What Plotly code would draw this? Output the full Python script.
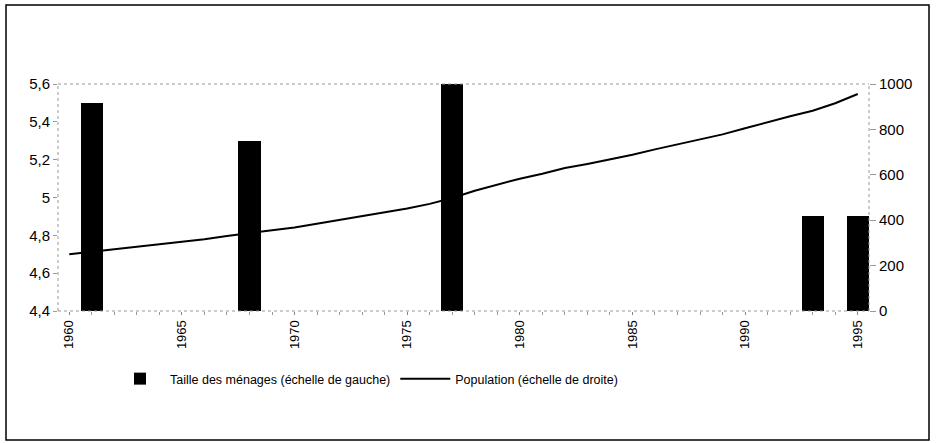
import plotly.graph_objects as go

years = list(range(1960, 1996))
population = [250, 262, 272, 283, 294, 304, 316, 330, 344, 356,
              368, 385, 401, 418, 433, 452, 472, 498, 530, 558,
              583, 605, 630, 648, 667, 688, 712, 733, 755, 778,
              805, 832, 858, 882, 915, 956]

bar_years = [1961, 1968, 1977, 1993, 1995]
household_size = [5.5, 5.3, 5.6, 4.9, 4.9]

left_ticks = [4.4, 4.6, 4.8, 5.0, 5.2, 5.4, 5.6]
left_tick_labels = ["4,4", "4,6", "4,8", "5", "5,2", "5,4", "5,6"]
right_ticks = [0, 200, 400, 600, 800, 1000]
x_ticks = [1960, 1965, 1970, 1975, 1980, 1985, 1990, 1995]

FONT = "Liberation Sans, Arial, Helvetica, sans-serif"

fig = go.Figure()
fig.add_trace(go.Bar(
    x=bar_years, y=household_size, width=0.98,
    marker=dict(color="black", line=dict(width=0)),
    name="Taille des ménages (échelle de gauche)",
))
fig.add_trace(go.Scatter(
    x=years, y=population, mode="lines", yaxis="y2",
    line=dict(color="black", width=2),
    name="Population (échelle de droite)",
))

# plot area in pixels: left 58, right 869, top 84, bottom 311
L, R, T, B = 58, 869, 84, 311
W, H = R - L, B - T

def px(xp):
    return (xp - L) / W

def py(yp):
    return (B - yp) / H

fig.update_layout(
    width=937, height=443,
    margin=dict(l=L, r=937 - R, t=T, b=443 - B, pad=0),
    paper_bgcolor="white", plot_bgcolor="white",
    font=dict(family=FONT, size=15, color="black"),
    bargap=0,
    xaxis=dict(
        range=[1959.5, 1995.5], tickvals=x_ticks, ticktext=[str(v) for v in x_ticks],
        tickangle=-90, showgrid=False, zeroline=False, showline=False,
        ticks="outside", ticklen=3, tickcolor="#888",
        minor=dict(dtick=1, ticks="outside", ticklen=3, tickcolor="#999"),
        tickfont=dict(size=13),
    ),
    yaxis=dict(
        range=[4.4, 5.6], tickvals=left_ticks, ticktext=left_tick_labels,
        showgrid=False, zeroline=False, showline=False,
        ticks="outside", ticklen=4, tickcolor="#999",
        tickfont=dict(size=15),
    ),
    yaxis2=dict(
        range=[0, 1000], tickvals=right_ticks, overlaying="y", side="right",
        showgrid=False, zeroline=False, showline=False,
        ticks="outside", ticklen=6, tickcolor="#999",
        tickfont=dict(size=15),
    ),
    showlegend=True,
    legend=dict(
        orientation="h", x=px(110), xanchor="left", y=py(379), yanchor="middle",
        font=dict(size=12.5), itemwidth=50, bgcolor="rgba(0,0,0,0)",
        traceorder="normal",
    ),
    shapes=[
        dict(type="line", xref="paper", yref="paper", x0=0, x1=1, y0=1, y1=1,
             line=dict(color="#999", width=1, dash="dot")),
        dict(type="line", xref="paper", yref="paper", x0=0, x1=1, y0=0, y1=0,
             line=dict(color="#999", width=1, dash="dot")),
        dict(type="line", xref="paper", yref="paper", x0=0, x1=0, y0=0, y1=1,
             line=dict(color="#999", width=1, dash="dot")),
        dict(type="line", xref="paper", yref="paper", x0=1, x1=1, y0=0, y1=1,
             line=dict(color="#999", width=1, dash="dot")),
        dict(type="rect", xref="paper", yref="paper",
             x0=px(6), x1=px(929), y0=py(440), y1=py(5),
             line=dict(color="black", width=1.5), fillcolor="rgba(0,0,0,0)", layer="below"),
    ],
)

fig.write_html("out.html", config={"displayModeBar": False},
               post_script="document.body.style.margin='0';")
